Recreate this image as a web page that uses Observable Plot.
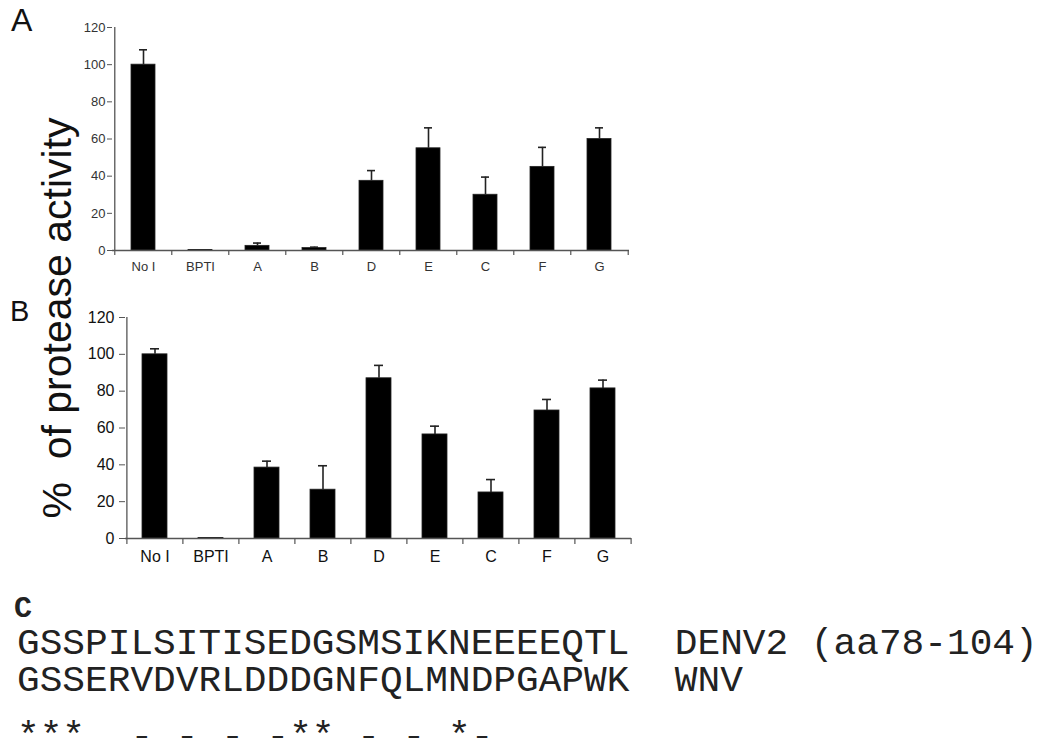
<!DOCTYPE html>
<html>
<head>
<meta charset="utf-8">
<script src="https://cdn.jsdelivr.net/npm/d3@7"></script>
<script src="https://cdn.jsdelivr.net/npm/@observablehq/plot@0.6"></script>
<style>
  html, body { margin: 0; padding: 0; background: #fff; }
  #root { position: relative; width: 1040px; height: 738px; overflow: hidden; background: #fff; }
  .abs { position: absolute; }
  .panel { font-family: "Liberation Sans", Arial, sans-serif; color: #111; }
  .seq { font-family: "Liberation Mono", "Courier New", monospace; font-size: 37.8px; white-space: pre; color: #222; line-height: 36px; }
</style>
</head>
<body>
<div id="root">
  <div class="abs panel" style="left:11px; top:4px; font-size:32px; line-height:1;">A</div>
  <div class="abs panel" style="left:10px; top:297px; font-size:29px; line-height:1;">B</div>
  <div id="plotA" class="abs" style="left:0; top:0;"></div>
  <div id="plotB" class="abs" style="left:0; top:280px;"></div>
  <div id="ylabel" class="abs panel" style="left:57px; top:318px; font-size:41px; line-height:1; white-space:pre; transform: translate(-50%,-50%) rotate(-90deg);"></div>
  <div id="cLabel" class="abs seq" style="left:14px; top:594px; font-size:30px; font-weight:bold; line-height:30px;">C</div>
  <div id="seq1" class="abs seq" style="left:17px; top:626px;"></div>
  <div id="seq2" class="abs seq" style="left:17px; top:663px;"></div>
  <div id="seq3" class="abs seq" style="left:17px; top:719px;"></div>
</div>
<script>
// ---- data ----
const categories = ["No I", "BPTI", "A", "B", "D", "E", "C", "F", "G"];
const valuesA = [100, 0.3, 2.5, 1.3, 37.5, 55, 30, 45, 60];
const errorsA = [8, 0, 1.5, 0.5, 5.5, 11, 9.5, 10.5, 6];
const valuesB = [100, 0.3, 38.5, 26.5, 87, 56.5, 25, 69.5, 81.5];
const errorsB = [3, 0, 3.5, 13, 7, 4.5, 7, 6, 4.5];
const yTicks = [0, 20, 40, 60, 80, 100, 120];
const yLabel = "%  of protease activity";
const seqDENV = "GSSPILSITISEDGSMSIKNEEEEQTL";
const seqWNV = "GSSERVDVRLDDDGNFQLMNDPGAPWK";
const seqDENVName = "DENV2 (aa78-104)";
const seqWNVName = "WNV";
const consensus = "***  - - - -** - - *-";

function makePanel(values, errors, cfg) {
  const data = categories.map((c, i) => ({cat: c, value: values[i], err: errors[i]}));
  const withErr = data.filter(d => d.err > 0);
  const n = categories.length;
  const step = (cfg.width - cfg.marginLeft - cfg.marginRight) / n;
  const last = categories[n - 1];
  return Plot.plot({
    width: cfg.width,
    height: cfg.height,
    marginLeft: cfg.marginLeft,
    marginRight: cfg.marginRight,
    marginTop: cfg.marginTop,
    marginBottom: cfg.marginBottom,
    style: {background: "transparent", fontFamily: cfg.fontFamily},
    x: {domain: categories, paddingInner: cfg.pad, paddingOuter: cfg.pad / 2, axis: null},
    y: {domain: [0, 120], axis: null},
    marks: [
      Plot.barY(data, {x: "cat", y: "value", fill: "#000", stroke: "#222", strokeWidth: 0.8}),
      Plot.ruleX(withErr, {x: "cat", y1: "value", y2: d => d.value + d.err, stroke: "#222", strokeWidth: 1.6}),
      Plot.tickY(withErr, {x: "cat", y: d => d.value + d.err, stroke: "#222", strokeWidth: 1.6, insetLeft: cfg.capInset, insetRight: cfg.capInset}),
      // axis lines
      Plot.ruleY([0], {stroke: "#555", strokeWidth: 1.3}),
      Plot.ruleX([categories[0]], {x: d => d, y1: 0, y2: 120, dx: -step / 2, stroke: "#555", strokeWidth: 1.3}),
      // category boundary ticks (Excel style)
      Plot.ruleX(categories, {x: d => d, y1: 0, y2: 0, dx: -step / 2, insetBottom: -cfg.tickLen, stroke: "#555", strokeWidth: 1.2}),
      Plot.ruleX([last], {x: d => d, y1: 0, y2: 0, dx: step / 2, insetBottom: -cfg.tickLen, stroke: "#555", strokeWidth: 1.2}),
      Plot.axisY(yTicks, {anchor: "left", tickSize: cfg.tickLen, tickPadding: cfg.yPad, fontSize: cfg.fontSize, stroke: "#555", fill: cfg.textColor, label: null, tickFormat: d => String(d)}),
      Plot.axisX({anchor: "bottom", tickSize: 0, tickPadding: cfg.xPad, fontSize: cfg.fontSize, fill: cfg.textColor, label: null})
    ]
  });
}

document.getElementById("plotA").append(makePanel(valuesA, errorsA, {
  width: 640, height: 280, marginLeft: 112, marginRight: 11, marginTop: 27, marginBottom: 30,
  pad: 0.58, capInset: 8, tickLen: 5, yPad: 2, xPad: 11, fontSize: 13, textColor: "#333",
  fontFamily: "'Liberation Sans', Arial, sans-serif"
}));
document.getElementById("plotB").append(makePanel(valuesB, errorsB, {
  width: 640, height: 290, marginLeft: 125, marginRight: 9, marginTop: 37, marginBottom: 32,
  pad: 0.56, capInset: 8, tickLen: 6, yPad: 5, xPad: 12, fontSize: 16, textColor: "#111",
  fontFamily: "'Liberation Sans', Arial, sans-serif"
}));

document.getElementById("ylabel").textContent = yLabel;
document.getElementById("seq1").textContent = seqDENV + "  " + seqDENVName;
document.getElementById("seq2").textContent = seqWNV + "  " + seqWNVName;
document.getElementById("seq3").textContent = consensus;
</script>
</body>
</html>
